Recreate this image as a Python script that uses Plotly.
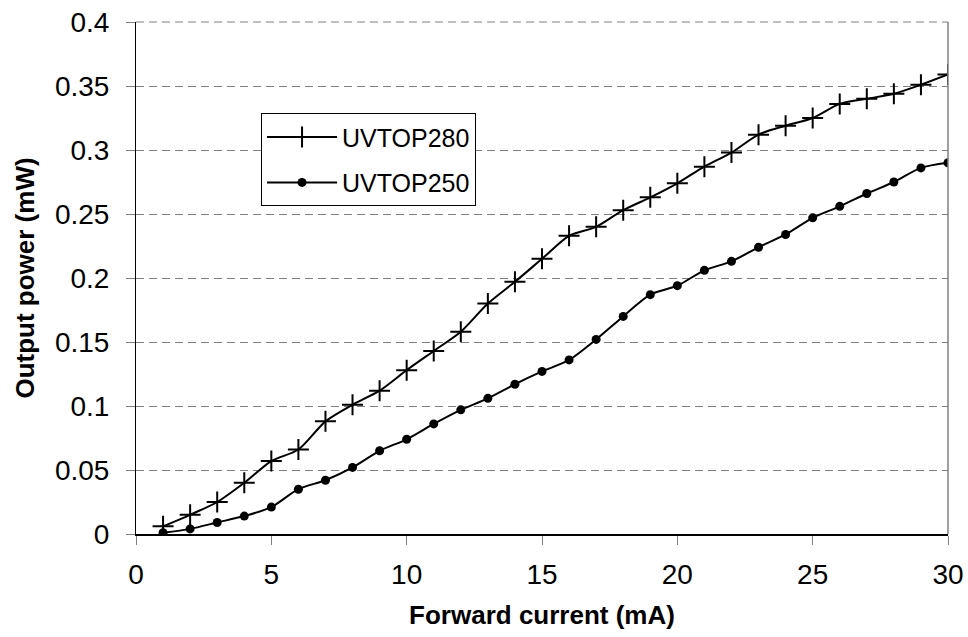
import plotly.graph_objects as go

current_ma = list(range(1, 31))
uvtop280 = [0.006, 0.015, 0.025, 0.040, 0.057, 0.066, 0.088, 0.101, 0.112, 0.128,
            0.143, 0.158, 0.180, 0.197, 0.215, 0.233, 0.240, 0.253, 0.263, 0.274,
            0.287, 0.298, 0.312, 0.319, 0.325, 0.336, 0.340, 0.344, 0.351, 0.359]
uvtop250 = [0.001, 0.004, 0.009, 0.014, 0.021, 0.035, 0.042, 0.052, 0.065, 0.074,
            0.086, 0.097, 0.106, 0.117, 0.127, 0.136, 0.152, 0.170, 0.187, 0.194,
            0.206, 0.213, 0.224, 0.234, 0.247, 0.256, 0.266, 0.275, 0.286, 0.290]
series_names = ["UVTOP280", "UVTOP250"]
y_tick_vals = [0, 0.05, 0.1, 0.15, 0.2, 0.25, 0.3, 0.35, 0.4]
y_tick_text = ["0", "0.05", "0.1", "0.15", "0.2", "0.25", "0.3", "0.35", "0.4"]
x_tick_vals = [0, 5, 10, 15, 20, 25, 30]

FONT = "Liberation Sans, Arial, sans-serif"

fig = go.Figure()
fig.add_trace(go.Scatter(
    x=current_ma, y=uvtop280, name=series_names[0], mode="lines+markers",
    line=dict(color="black", width=2, shape="spline", smoothing=0.8),
    marker=dict(symbol="cross-thin", size=15, line=dict(color="black", width=2), color="black"),
    legendgroup="a",
))
fig.add_trace(go.Scatter(
    x=current_ma, y=uvtop250, name=series_names[1], mode="lines+markers",
    line=dict(color="black", width=2, shape="spline", smoothing=0.8),
    marker=dict(symbol="circle", size=9, color="black"),
    legendgroup="b",
))

fig.update_layout(
    width=968, height=637,
    margin=dict(l=136, r=20, t=22, b=103, autoexpand=False),
    paper_bgcolor="white", plot_bgcolor="white",
    font=dict(family=FONT, color="black", size=26),
    legend=dict(
        x=0.154, y=0.822, xanchor="left", yanchor="top",
        bordercolor="black", borderwidth=1, bgcolor="white",
        font=dict(family=FONT, size=25, color="black"),
        tracegroupgap=10, traceorder="grouped",
        itemwidth=70,
    ),
    showlegend=True,
)
fig.update_xaxes(
    range=[0, 30], tickvals=x_tick_vals,
    showgrid=False, zeroline=False, automargin=False,
    showline=True, linecolor="black", linewidth=2,
    ticks="outside", ticklen=9, tickcolor="#808080", tickwidth=1,
    ticklabelstandoff=5, ticklabeloverflow="allow",
    tickfont=dict(family=FONT, size=28, color="black"),
    title=dict(text="<b>Forward current (mA)</b>", font=dict(family=FONT, size=26, color="black"), standoff=17),
)
fig.update_yaxes(
    range=[0, 0.4], tickvals=y_tick_vals, ticktext=y_tick_text,
    showgrid=True, gridcolor="#808080", gridwidth=1, griddash="8px,5px",
    zeroline=False, automargin=False,
    showline=True, linecolor="black", linewidth=1,
    ticks="outside", ticklen=9, tickcolor="#808080", tickwidth=1,
    ticklabelstandoff=11, ticklabeloverflow="allow",
    tickfont=dict(family=FONT, size=28, color="black"),
    title=dict(text="<b>Output power (mW)</b>", font=dict(family=FONT, size=26, color="black"), standoff=12),
)
# plot-area frame: gray right edge and dashed top edge (as in the reference)
fig.add_shape(type="line", xref="paper", yref="paper", x0=1, x1=1, y0=0, y1=1,
              line=dict(color="#808080", width=1.5))
fig.add_shape(type="line", xref="paper", yref="paper", x0=0, x1=1, y0=1, y1=1,
              line=dict(color="#808080", width=1, dash="8px,5px"))

fig.write_html(
    "out.html",
    config={"displayModeBar": False},
    post_script="document.body.style.margin='0';document.body.style.overflow='hidden';",
)
